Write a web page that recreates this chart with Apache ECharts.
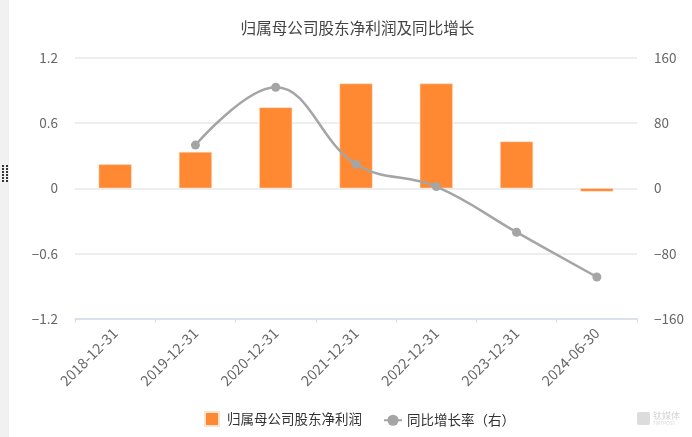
<!DOCTYPE html>
<html>
<head>
<meta charset="utf-8">
<style>
  html, body { margin: 0; padding: 0; background: #fff; }
  #main { width: 692px; height: 437px; }
</style>
<script src="https://cdn.jsdelivr.net/npm/echarts@6/dist/echarts.min.js"></script>
</head>
<body>
<div id="main"></div>
<script>
var chartTitle = "归属母公司股东净利润及同比增长";
var categories = ["2018-12-31", "2019-12-31", "2020-12-31", "2021-12-31", "2022-12-31", "2023-12-31", "2024-06-30"];
var profitName = "归属母公司股东净利润";
var growthName = "同比增长率（右）";
var profitValues = [0.22, 0.335, 0.745, 0.965, 0.965, 0.43, -0.03];
var growthValues = [null, 53, 124, 29.5, 2, -54, -109];
var leftTicks = { min: -1.2, max: 1.2, interval: 0.6 };
var rightTicks = { min: -160, max: 160, interval: 80 };

var fontFamily = '"Noto Sans CJK SC", "Noto Sans", sans-serif';
var labelColor = "#666";

// tick labels use a long minus in the original
function tickLabel(value) {
  return String(value).replace("-", "−");
}

// dotted handle on the grey strip at the left edge
var handleDots = [];
for (var row = 0; row < 6; row++) {
  for (var col = 0; col < 2; col++) {
    handleDots.push({
      type: "rect",
      shape: { x: 2 + col * 4, y: 165 + row * 3, width: 2, height: 2 },
      style: { fill: "#333" }
    });
  }
}

var myChart = echarts.init(document.getElementById("main"));
var option = {
  animation: false,
  backgroundColor: "#fff",
  textStyle: { fontFamily: fontFamily },
  title: {
    text: chartTitle,
    left: 352.5,
    top: 15,
    textAlign: "center",
    textStyle: { fontSize: 15.6, fontWeight: "normal", color: "#444", fontFamily: fontFamily }
  },
  legend: [
    {
      bottom: 5,
      left: 199,
      itemGap: 0,
      itemWidth: 14,
      itemHeight: 14,
      textStyle: { fontSize: 13.5, color: "#333", fontFamily: fontFamily, padding: [0, 0, 0, 3] },
      data: [{ name: profitName, icon: "rect", itemStyle: { color: "#ff8833" } }]
    },
    {
      bottom: 5,
      left: 378,
      itemGap: 0,
      itemWidth: 18,
      itemHeight: 14,
      textStyle: { fontSize: 13.5, color: "#333", fontFamily: fontFamily },
      data: [{ name: growthName }]
    }
  ],
  grid: { left: 75, right: 55, top: 58, bottom: 118.5 },
  xAxis: {
    type: "category",
    data: categories,
    axisLine: { onZero: false, lineStyle: { color: "#d5dbe8", width: 1.5 } },
    axisTick: { show: true, length: 4, lineStyle: { color: "#d5dbe8" } },
    axisLabel: { rotate: 45, fontSize: 14.5, color: labelColor, margin: 12, interval: 0, fontFamily: fontFamily }
  },
  yAxis: [
    {
      type: "value",
      min: leftTicks.min,
      max: leftTicks.max,
      interval: leftTicks.interval,
      axisLine: { show: false },
      axisTick: { show: false },
      axisLabel: { fontSize: 13.5, color: labelColor, margin: 17, fontFamily: fontFamily, formatter: tickLabel },
      splitLine: { lineStyle: { color: "#e8e8ec", width: 1.5 } }
    },
    {
      type: "value",
      min: rightTicks.min,
      max: rightTicks.max,
      interval: rightTicks.interval,
      axisLine: { show: false },
      axisTick: { show: false },
      axisLabel: { fontSize: 13.5, color: labelColor, margin: 17, fontFamily: fontFamily, formatter: tickLabel },
      splitLine: { show: false }
    }
  ],
  series: [
    {
      name: profitName,
      type: "bar",
      data: profitValues,
      barWidth: 33,
      itemStyle: { color: "#ff8833", borderColor: "#ffe3cf", borderWidth: 0.5 }
    },
    {
      name: growthName,
      type: "line",
      yAxisIndex: 1,
      data: growthValues,
      smooth: 0.4,
      symbol: "circle",
      symbolSize: 9,
      lineStyle: { color: "#a5a5a5", width: 2.5 },
      itemStyle: { color: "#a5a5a5" }
    }
  ],
  graphic: [
    { type: "rect", shape: { x: 0, y: 0, width: 9, height: 437 }, style: { fill: "#f1f1f1" } },
    { type: "group", children: handleDots },
    { type: "rect", shape: { x: 637, y: 412, width: 13, height: 13, r: 2 }, style: { fill: "#dcdcdc" } },
    { type: "text", style: { x: 653, y: 411, text: "钛媒体", fill: "#d4d4d4", font: '9px "Noto Sans CJK SC"' } },
    { type: "text", style: { x: 653, y: 421, text: "TMTPOST", fill: "#dcdcdc", font: '5px "Noto Sans"' } }
  ]
};
myChart.setOption(option);
</script>
</body>
</html>
